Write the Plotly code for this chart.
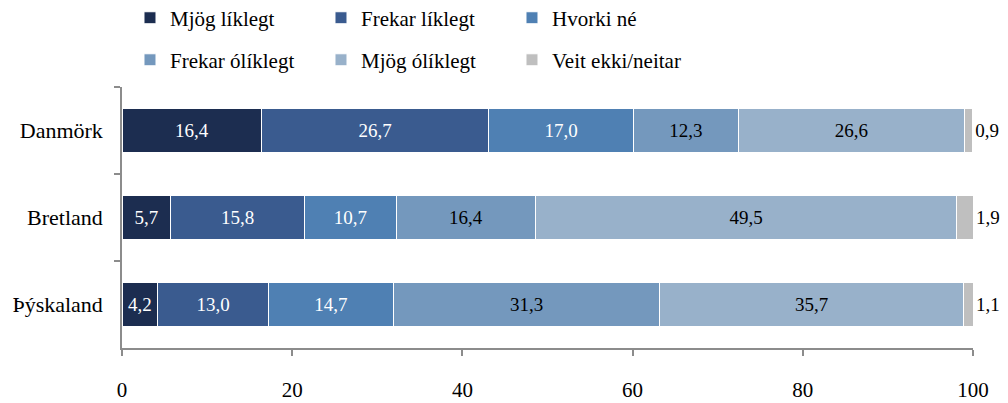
import plotly.graph_objects as go

countries = ["Danmörk", "Bretland", "Þýskaland"]

series_names = ["Mjög líklegt", "Frekar líklegt", "Hvorki né",
                "Frekar ólíklegt", "Mjög ólíklegt", "Veit ekki/neitar"]
mjog_liklegt = [16.4, 5.7, 4.2]
frekar_liklegt = [26.7, 15.8, 13.0]
hvorki_ne = [17.0, 10.7, 14.7]
frekar_oliklegt = [12.3, 16.4, 31.3]
mjog_oliklegt = [26.6, 49.5, 35.7]
veit_ekki = [0.9, 1.9, 1.1]

colors = ["#1c2d50", "#3a5b8f", "#4f80b3", "#7498bd", "#98b1ca", "#bfbfbf"]
text_colors = ["white", "white", "white", "black", "black", "black"]
x_ticks = [0, 20, 40, 60, 80, 100]

FONT = "Liberation Serif, Times New Roman, serif"

fig = go.Figure()
all_values = [mjog_liklegt, frekar_liklegt, hvorki_ne, frekar_oliklegt, mjog_oliklegt, veit_ekki]
for i, (name, vals) in enumerate(zip(series_names, all_values)):
    last = i == len(series_names) - 1
    fig.add_trace(go.Bar(
        y=countries, x=vals, name=name, orientation="h",
        marker=dict(color=colors[i], line=dict(color="white", width=1)),
        text=[f"{v:.1f}".replace(".", ",") for v in vals],
        textposition="outside" if last else "inside",
        insidetextanchor="middle",
        textfont=dict(family=FONT, size=19, color=text_colors[i]),
        constraintext="none",
        cliponaxis=False,
        width=0.5,
        legend="legend" if i < 3 else "legend2",
    ))

# page body adds an 8px offset, so the figure is drawn 8px smaller
legend_style = dict(
    orientation="h", x=0.0094, xanchor="left", yanchor="middle",
    entrywidth=146, font=dict(family=FONT, size=21, color="black"),
    bgcolor="rgba(0,0,0,0)", traceorder="normal", itemclick=False,
)

fig.update_layout(
    barmode="stack",
    width=1000, height=395,
    margin=dict(l=114, r=35, t=79, b=55, autoexpand=False),
    plot_bgcolor="white", paper_bgcolor="white",
    font=dict(family=FONT, size=19, color="black"),
    legend=dict(y=1.264, **legend_style),
    legend2=dict(y=1.103, **legend_style),
    xaxis=dict(
        range=[0, 100], tickvals=x_ticks, showgrid=False, zeroline=False,
        showline=True, linecolor="#8c8c8c", linewidth=1.5,
        ticks="outside", ticklen=6, tickcolor="#8c8c8c", tickwidth=1.5,
        ticklabelstandoff=16, tickfont=dict(family=FONT, size=21),
        automargin=False,
    ),
    yaxis=dict(
        autorange="reversed", showgrid=False, zeroline=False,
        showline=True, linecolor="#8c8c8c", linewidth=1.5,
        ticks="outside", ticklen=6, tickcolor="#8c8c8c", tickwidth=1.5,
        tickson="boundaries", ticklabelstandoff=13,
        tickfont=dict(family=FONT, size=22), automargin=False,
    ),
    showlegend=True,
)

fig.write_html("out.html")
